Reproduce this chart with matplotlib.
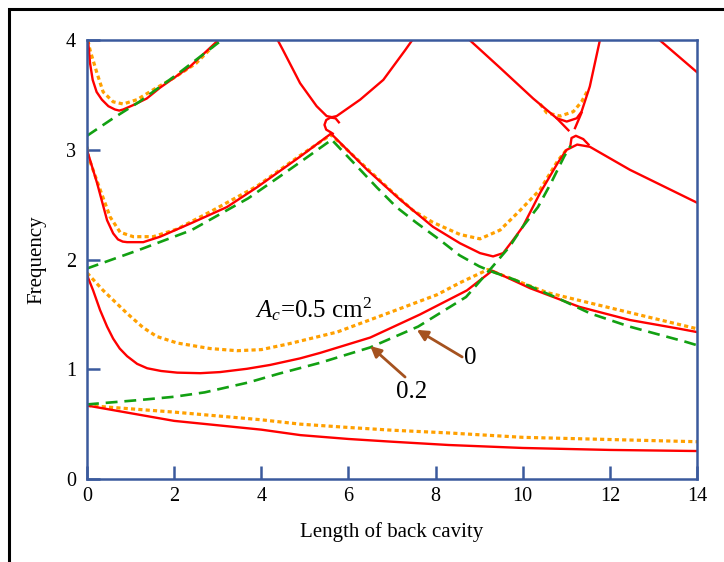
import matplotlib
matplotlib.use('Agg')
import matplotlib.pyplot as plt
from matplotlib.patches import Rectangle

plt.rcParams['font.family'] = ['Liberation Serif', 'DejaVu Serif']
plt.rcParams['mathtext.fontset'] = 'custom'
plt.rcParams['mathtext.rm'] = 'Liberation Serif'
plt.rcParams['mathtext.it'] = 'Liberation Serif:italic'

# --- uncoupled modes (green dashed) ---
g1_x = [0, 1.2, 2.0, 2.7, 3.7, 4.4, 5.35, 6.5, 7.6, 8.7, 9.25, 9.7, 10.0, 10.35, 10.65, 10.95, 11.1]
g1_y = [0.68, 0.72, 0.75, 0.79, 0.88, 0.96, 1.06, 1.20, 1.39, 1.66, 1.91, 2.12, 2.30, 2.48, 2.70, 2.94, 3.04]
g2_x = [0, 1.2, 2.4, 3.7, 4.5, 5.0, 5.6]
g2_y = [1.92, 2.09, 2.27, 2.56, 2.78, 2.92, 3.09]
g3_x = [5.65, 6.2, 6.65, 7.1, 7.55, 8.1, 8.55, 9.0, 9.3, 9.8, 10.8, 11.55, 12.45, 13.75, 14]
g3_y = [3.08, 2.85, 2.66, 2.48, 2.34, 2.18, 2.04, 1.94, 1.89, 1.82, 1.65, 1.51, 1.39, 1.25, 1.22]
g4_x = [0, 0.6, 1.2, 2.1, 3.05, 3.15]
g4_y = [3.13, 3.29, 3.44, 3.70, 3.99, 4.03]

# --- A_c = 0.2 (red solid) ---
r1_x = [0, 1, 2, 3, 4, 4.9, 6, 7, 8.3, 10, 12, 14]
r1_y = [0.67, 0.60, 0.53, 0.49, 0.45, 0.40, 0.365, 0.34, 0.31, 0.283, 0.265, 0.255]
r2_x = [0, 0.14, 0.3, 0.46, 0.6, 0.75, 0.92, 1.15, 1.38, 1.7, 2.07, 2.6, 3.05, 3.67, 4.2, 4.89, 5.35,
        6.5, 7.64, 8.72, 9.3, 10.17, 11.3, 12.46, 13.6, 14]
r2_y = [1.86, 1.72, 1.54, 1.39, 1.28, 1.19, 1.12, 1.05, 1.01, 0.985, 0.97, 0.965, 0.975, 1.005, 1.04,
        1.10, 1.15, 1.29, 1.50, 1.72, 1.90, 1.74, 1.57, 1.45, 1.37, 1.34]
r3_x = [0, 0.23, 0.46, 0.6, 0.71, 0.82, 0.92, 1.29, 1.68, 2.43, 3.21, 3.9, 4.89, 5.6, 6.43, 7.18, 7.94,
        8.56, 9.02, 9.32, 9.55, 9.78, 10.0, 10.4, 10.8, 11.0, 11.25, 11.54, 12.46, 14]
r3_y = [3.0, 2.70, 2.36, 2.24, 2.185, 2.165, 2.16, 2.16, 2.21, 2.34, 2.48, 2.66, 2.94, 3.15, 2.82, 2.55,
        2.30, 2.15, 2.06, 2.03, 2.06, 2.18, 2.30, 2.61, 2.88, 3.0, 3.05, 3.03, 2.82, 2.52]
r4_x = [0, 0.03, 0.07, 0.13, 0.22, 0.34, 0.49, 0.64, 0.74, 0.83, 1.06, 1.37, 1.68, 2.36, 2.98, 3.05]
r4_y = [4.05, 3.975, 3.79, 3.64, 3.53, 3.46, 3.40, 3.37, 3.36, 3.37, 3.41, 3.47, 3.57, 3.76, 3.99, 4.03]
r5a_x = [4.38, 4.5, 4.89, 5.27, 5.5, 5.62]
r5a_y = [4.0, 3.91, 3.61, 3.40, 3.31, 3.30]
r5b_x = [5.62, 5.73, 6.27, 6.80, 7.30, 7.46]
r5b_y = [3.30, 3.31, 3.46, 3.64, 3.91, 4.0]
loop1_x = [5.78, 5.705, 5.59, 5.49, 5.45, 5.49, 5.59, 5.64]
loop1_y = [3.253, 3.289, 3.297, 3.274, 3.23, 3.186, 3.163, 3.15]
r6_x = [8.79, 9.48, 10.24, 10.78, 11.01, 11.24, 11.35, 11.54, 11.77]
r6_y = [4.0, 3.75, 3.47, 3.29, 3.26, 3.29, 3.35, 3.58, 4.0]
tail1_x = [10.78, 11.05]
tail1_y = [3.29, 3.18]
tail2_x = [11.35, 11.20]
tail2_y = [3.34, 3.20]
loop2_x = [11.09, 11.12, 11.22, 11.39, 11.51]
loop2_y = [3.03, 3.11, 3.13, 3.10, 3.05]
r7_x = [13.15, 14]
r7_y = [4.0, 3.71]

# --- A_c = 0 (orange dotted) ---
o1_x = [0, 1, 2, 3, 4, 4.9, 6, 7, 8.3, 10, 12, 14]
o1_y = [0.67, 0.64, 0.61, 0.575, 0.54, 0.50, 0.47, 0.445, 0.42, 0.38, 0.36, 0.34]
o2_x = [0, 0.37, 0.92, 1.29, 1.6, 2.07, 2.82, 3.44, 4.0, 4.6, 5.74, 6.89, 8.03, 8.56, 9.2, 10.56, 11.7,
        12.85, 14]
o2_y = [1.88, 1.72, 1.51, 1.38, 1.30, 1.24, 1.19, 1.17, 1.18, 1.23, 1.34, 1.51, 1.68, 1.79, 1.91, 1.70,
        1.59, 1.48, 1.37]
o3_x = [0, 0.03, 0.3, 0.53, 0.76, 1.06, 1.52, 2.07, 2.89, 3.9, 4.89, 5.6, 6.43, 7.0, 7.48, 7.94,
        8.56, 9.02, 9.48, 9.94, 10.4, 10.8, 11.0]
o3_y = [3.03, 2.94, 2.64, 2.39, 2.25, 2.21, 2.21, 2.28, 2.45, 2.67, 2.95, 3.14, 2.83, 2.62, 2.45, 2.34,
        2.23, 2.19, 2.27, 2.45, 2.64, 2.90, 3.0]
o4_x = [0.02, 0.07, 0.23, 0.37, 0.6, 0.83, 1.15, 1.52, 2.0, 2.5, 3.0]
o4_y = [4.0, 3.91, 3.70, 3.53, 3.44, 3.42, 3.46, 3.55, 3.66, 3.79, 3.99]
o5_x = [10.4, 10.55, 10.86, 11.16, 11.35, 11.5]
o5_y = [3.42, 3.34, 3.31, 3.35, 3.44, 3.55]

red = '#ff0000'
orange = '#ffa000'
green = '#12a012'
blue = '#3b5a9d'
brown = '#a5521f'

fig = plt.figure(figsize=(7.24, 5.62), dpi=100)
ax = fig.add_axes([0.1202, 0.1477, 0.8425, 0.7804])

for xs, ys in [(o1_x, o1_y), (o2_x, o2_y), (o3_x, o3_y), (o4_x, o4_y), (o5_x, o5_y)]:
    ax.plot(xs, ys, color=orange, lw=2.3, linestyle=(0, (1.3, 1.0)))

for xs, ys in [(r1_x, r1_y), (r2_x, r2_y), (r3_x, r3_y), (r4_x, r4_y), (r5a_x, r5a_y), (r5b_x, r5b_y),
               (loop1_x, loop1_y), (r6_x, r6_y), (tail1_x, tail1_y), (tail2_x, tail2_y),
               (loop2_x, loop2_y), (r7_x, r7_y)]:
    ax.plot(xs, ys, color=red, lw=1.7, solid_joinstyle='round')

for xs, ys in [(g1_x, g1_y), (g2_x, g2_y), (g3_x, g3_y), (g4_x, g4_y)]:
    ax.plot(xs, ys, color=green, lw=1.9, linestyle=(0, (4.5, 2.6)))

ax.set_xlim(0, 14)
ax.set_ylim(0, 4)
ax.set_xticks(range(0, 15, 2))
ax.set_yticks(range(0, 5))
for s in ax.spines.values():
    s.set_color(blue)
    s.set_linewidth(1.8)
ax.tick_params(direction='in', length=9.5, width=1.8, color=blue, labelsize=14.5)
ax.tick_params(axis='x', pad=6)
ax.tick_params(axis='y', pad=8)
ax.set_xlabel('Length of back cavity', fontsize=15, labelpad=11)
ax.set_ylabel('Frequency', fontsize=15, labelpad=14)

ax.text(3.86, 1.478, r'$A_c$=0.5 cm$^2$', fontsize=18, ha='left', va='baseline')
ax.text(8.79, 1.10, '0', fontsize=18, ha='center', va='center')
ax.text(7.46, 0.79, '0.2', fontsize=18, ha='center', va='center')
arrow = dict(arrowstyle='-|>', color=brown, lw=2, mutation_scale=16, shrinkA=0, shrinkB=0)
ax.annotate('', xy=(7.57, 1.36), xytext=(8.61, 1.113), arrowprops=arrow)
ax.annotate('', xy=(6.50, 1.213), xytext=(7.30, 0.93), arrowprops=arrow)

fig.add_artist(Rectangle((0.013, -0.5), 2, 1.484, transform=fig.transFigure,
                         fill=False, lw=2.2, edgecolor='black'))

fig.savefig('out.png', dpi=100)
